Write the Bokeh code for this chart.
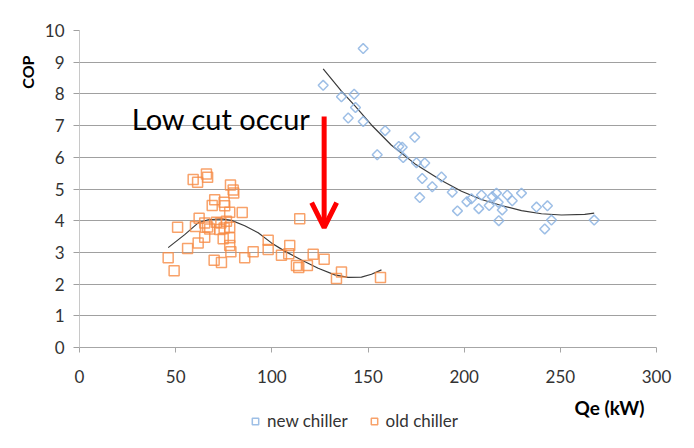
import numpy as np
from bokeh.plotting import figure
from bokeh.layouts import column
from bokeh.models import FixedTicker, Label, Arrow, OpenHead, Legend, LegendItem, Range1d, Title
from bokeh.embed import file_html
from bokeh.resources import INLINE

# ---- data ----
new_qe = [147.5, 126.7, 136.2, 142.8, 143.5, 139.7, 147.5, 158.9, 154.8, 174.3,
          166.0, 167.8, 168.3, 175.2, 179.5, 178.2, 183.4, 188.2, 176.9, 193.8,
          201.4, 203.8, 209.0, 196.5, 207.6, 213.0, 214.6, 216.8, 217.7, 219.8,
          222.4, 225.0, 229.8, 218.0, 237.6, 243.3, 245.4, 241.9, 267.6]
new_cop = [9.43, 8.27, 7.91, 7.99, 7.57, 7.24, 7.13, 6.84, 6.08, 6.63,
           6.34, 6.32, 5.99, 5.83, 5.82, 5.33, 5.07, 5.38, 4.73, 4.90,
           4.60, 4.69, 4.81, 4.31, 4.38, 4.48, 4.76, 4.87, 4.58, 4.34,
           4.81, 4.63, 4.87, 4.00, 4.43, 4.47, 4.02, 3.74, 4.02]

old_qe = [46.1, 49.2, 51.0, 56.2, 59.1, 61.4, 60.3, 61.7, 62.2, 65.1,
          65.1, 66.0, 66.6, 66.6, 67.7, 69.0, 70.3, 70.0, 71.2, 72.9,
          73.5, 73.8, 74.7, 75.2, 75.5, 75.2, 76.4, 78.1, 78.1, 78.1,
          78.7, 78.5, 79.9, 80.2, 78.1, 84.6, 85.9, 90.3, 98.1, 98.1,
          105.0, 109.3, 108.8, 112.8, 114.0, 114.5, 118.5, 121.5, 127.2, 136.2,
          133.6, 156.5]
old_cop = [2.83, 2.42, 3.79, 3.12, 5.30, 5.21, 3.82, 3.30, 4.08, 3.93,
           3.48, 5.47, 5.37, 3.80, 3.74, 4.48, 4.66, 2.75, 3.95, 3.72,
           3.93, 2.68, 3.43, 4.58, 4.47, 3.77, 3.98, 4.27, 3.79, 3.22,
           3.02, 5.13, 4.97, 4.87, 3.46, 4.26, 2.83, 3.02, 3.38, 3.09,
           2.91, 3.22, 2.96, 2.59, 2.52, 4.06, 2.59, 2.94, 2.78, 2.38,
           2.18, 2.21]

new_trend_qe = [126.7, 136.2, 143.1, 151.8, 162.2, 174.3, 188.2, 198.6, 209.0,
                219.8, 229.8, 240.2, 250.6, 262.7, 267.6]
new_trend_cop = [8.79, 8.09, 7.63, 7.02, 6.38, 5.80, 5.27, 4.93, 4.67,
                 4.47, 4.32, 4.22, 4.18, 4.20, 4.24]

old_trend_qe = [46.1, 54.7, 61.7, 66.9, 73.8, 79.0, 85.9, 92.9, 99.8, 106.7,
                115.4, 124.1, 132.7, 139.7, 146.6, 151.8, 157.0]
old_trend_cop = [3.15, 3.56, 3.93, 4.03, 4.06, 4.01, 3.84, 3.62, 3.30, 3.04,
                 2.76, 2.50, 2.29, 2.21, 2.22, 2.31, 2.45]

x_ticks = [0, 50, 100, 150, 200, 250, 300]
y_ticks = [0, 1, 2, 3, 4, 5, 6, 7, 8, 9, 10]

series_names = ["new chiller", "old chiller"]
x_title = "Qe (kW)"
y_title = "COP"
note_text = "Low cut occur"

FONT = "Lato"
NEW_STYLE = dict(marker="square", angle=np.pi / 4, size=7, fill_color=None,
                 line_color="#8db4e2", line_width=1.5, line_alpha=0.85)
OLD_STYLE = dict(marker="square", size=10, fill_color=None,
                 line_color="#f68b45", line_width=1.5, line_alpha=0.8)

p = figure(width=686, height=395, output_backend="svg", toolbar_location=None,
           x_range=Range1d(0, 300), y_range=Range1d(0, 10),
           min_border_left=79, min_border_right=30, min_border_top=30,
           min_border_bottom=48)
p.outline_line_color = None
p.background_fill_color = "white"
p.border_fill_color = "white"

# grid
p.xgrid.grid_line_color = None
p.ygrid.ticker = FixedTicker(ticks=y_ticks)
p.ygrid.grid_line_color = "#a0a0a0"
p.ygrid.grid_line_width = 1

# axes
p.xaxis.ticker = FixedTicker(ticks=x_ticks)
p.yaxis.ticker = FixedTicker(ticks=y_ticks)
for ax in (p.xaxis[0], p.yaxis[0]):
    ax.minor_tick_line_color = None
    ax.major_tick_in = 0
    ax.major_label_text_font = FONT
    ax.major_label_text_font_size = "17px"
    ax.major_label_text_color = "#333333"
p.xaxis.axis_line_color = "#a6a6a6"
p.xaxis.major_tick_line_color = "#a6a6a6"
p.xaxis.major_tick_out = 5
p.xaxis.major_label_standoff = 17
p.yaxis.axis_line_color = "#c8c8c8"
p.yaxis.major_tick_line_color = "#a0a0a0"
p.yaxis.major_tick_out = 6
p.yaxis.major_label_standoff = 9

# trend lines
p.line(new_trend_qe, new_trend_cop, line_color="#3a3a3a", line_width=1.2)
p.line(old_trend_qe, old_trend_cop, line_color="#3a3a3a", line_width=1.2)

# scatter
p.scatter(new_qe, new_cop, **NEW_STYLE)
p.scatter(old_qe, old_cop, **OLD_STYLE)

# annotation
p.add_layout(Label(x=27.2, y=7.22, text=note_text, text_font=FONT,
                   text_font_size="29px", text_color="black", text_baseline="middle"))
p.add_layout(Arrow(x_start=127.2, y_start=7.29, x_end=127.2, y_end=3.78,
                   line_color="red", line_width=5,
                   end=OpenHead(size=25, line_color="red", line_width=5)))

# y axis title in the left side panel
p.add_layout(Title(text=y_title, align="right", offset=25, standoff=9,
                   text_font=FONT, text_font_size="16px", text_font_style="bold",
                   text_color="black"), "left")

# ---- strip below the chart: x-axis title and legend ----
# (its frame is aligned with the chart frame: x from 79 to 656)
q = figure(width=686, height=45, output_backend="svg", toolbar_location=None,
           x_range=Range1d(-2, -1), y_range=Range1d(-2, -1),
           min_border_left=0, min_border_right=0, min_border_top=0, min_border_bottom=0,
           x_axis_type=None, y_axis_type=None)
q.outline_line_color = None
q.grid.visible = False
# same series, kept outside this strip's ranges: only their legend glyphs show
q_new = q.scatter(new_qe, new_cop, **NEW_STYLE)
q_old = q.scatter(old_qe, old_cop, **OLD_STYLE)

q.add_layout(Label(x=530, y=33, x_units="screen", y_units="screen", text=x_title,
                   text_font=FONT, text_font_size="19px", text_font_style="bold",
                   text_color="black", text_align="center", text_baseline="middle"))

legend = Legend(items=[LegendItem(label=series_names[0], renderers=[q_new]),
                       LegendItem(label=series_names[1], renderers=[q_old])],
                orientation="horizontal", location=(168, 9),
                border_line_color=None, background_fill_alpha=0,
                padding=0, margin=0, spacing=18, label_standoff=4,
                glyph_width=16, glyph_height=16,
                label_text_font=FONT, label_text_font_size="17px",
                label_text_color="#333333")
q.add_layout(legend, "center")

layout = column(p, q, spacing=0)
open("out.html", "w").write(file_html(layout, INLINE))
